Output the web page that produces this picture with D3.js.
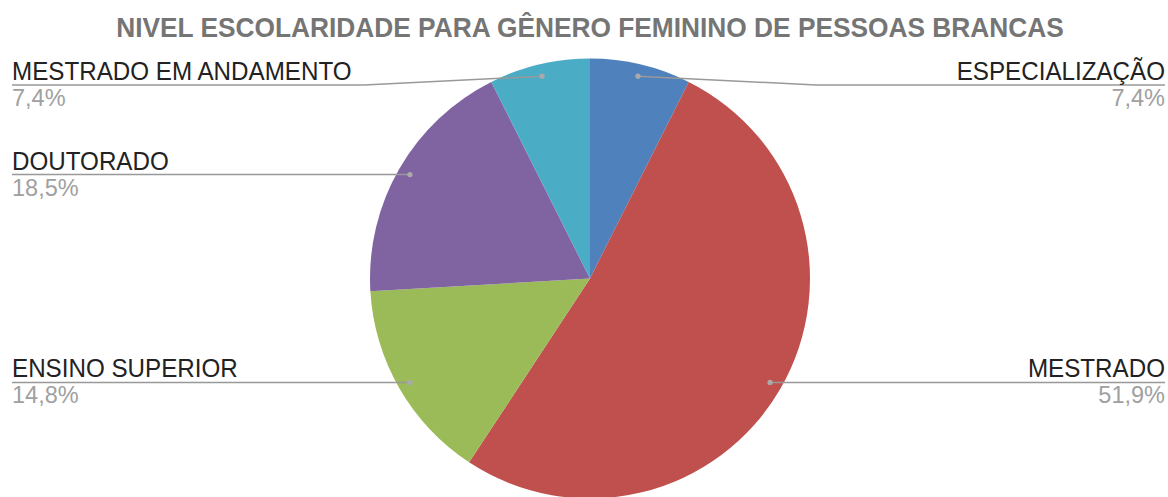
<!DOCTYPE html>
<html>
<head>
<meta charset="utf-8">
<script src="https://cdn.jsdelivr.net/npm/d3@7"></script>
<style>
  html, body { margin: 0; padding: 0; background: #fff; }
  svg { display: block; font-family: "Liberation Sans", Arial, sans-serif; }
</style>
</head>
<body>
<svg id="chart" width="1168" height="497"></svg>
<script>
const title = "NIVEL ESCOLARIDADE PARA GÊNERO FEMININO DE PESSOAS BRANCAS";
const categories = ["ESPECIALIZAÇÃO", "MESTRADO", "ENSINO SUPERIOR", "DOUTORADO", "MESTRADO EM ANDAMENTO"];
const counts = [2, 14, 4, 5, 2];
const colors = ["#4F81BD", "#C0504D", "#9BBB59", "#8064A2", "#4BACC6"];

const W = 1168, H = 497;
const cx = 590, cy = 278.5, r = 220;
const svg = d3.select("#chart");

svg.append("text")
  .attr("transform", `translate(${cx},37) scale(1,1.06)`)
  .attr("text-anchor", "middle")
  .attr("font-size", 26.3).attr("font-weight", "bold")
  .attr("fill", "#757575")
  .text(title);

const total = d3.sum(counts);
const data = categories.map((c, i) => ({ name: c, value: counts[i], color: colors[i] }));
const pie = d3.pie().value(d => d.value).sort(null);
const arcs = pie(data);
const arc = d3.arc().innerRadius(0).outerRadius(r);
const dotArc = d3.arc().innerRadius(r * 0.945).outerRadius(r * 0.945);

const g = svg.append("g").attr("transform", `translate(${cx},${cy})`);
g.selectAll("path.slice").data(arcs).join("path")
  .attr("class", "slice")
  .attr("d", arc)
  .attr("fill", d => d.data.color);

const fmt = v => (v * 100).toFixed(1).replace(".", ",") + "%";
const minLineY = 85;

arcs.forEach(a => {
  const [dx, dy] = dotArc.centroid(a);
  const px = cx + dx, py = cy + dy;
  const right = dx > 0;
  const ly = Math.max(py, minLineY);
  const elbowX = right ? cx + r + 6 : cx - r - 6;
  const endX = right ? 1165 : 12;
  const pts = ly > py + 0.5 ? [[px, py], [elbowX, ly], [endX, ly]] : [[px, py], [endX, ly]];
  svg.append("path")
    .attr("d", d3.line()(pts))
    .attr("fill", "none").attr("stroke", "#999").attr("stroke-width", 1.5);
  svg.append("circle").attr("cx", px).attr("cy", py).attr("r", 2.6).attr("fill", "#aaa");
  svg.append("text")
    .attr("transform", `translate(${endX},${ly - 5}) scale(1,1.08)`)
    .attr("text-anchor", right ? "end" : "start")
    .attr("font-size", 24.2).attr("fill", "#222")
    .text(a.data.name);
  svg.append("text")
    .attr("x", endX).attr("y", ly + 21)
    .attr("text-anchor", right ? "end" : "start")
    .attr("font-size", 23.5).attr("fill", "#a0a0a0")
    .text(fmt(a.data.value / total));
});
</script>
</body>
</html>
